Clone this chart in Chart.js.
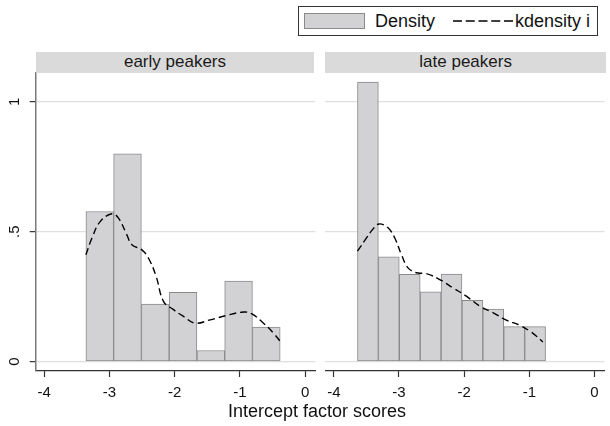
<!DOCTYPE html>
<html><head><meta charset="utf-8">
<script src="https://cdn.jsdelivr.net/npm/chart.js@4"></script>
<style>
html,body{margin:0;padding:0;background:#fff}
body{width:610px;height:426px;overflow:hidden;position:relative;font-family:"Liberation Sans",Arial,Helvetica,sans-serif;color:#111}
canvas{position:absolute;top:0}
#cl{left:0}
#cr{left:320px}
.strip{position:absolute;top:52.3px;height:20.4px;background:#dadada;font-size:17px;line-height:20.4px;text-align:center;color:#1a1a1a}
#legend{position:absolute;left:298px;top:5.7px;width:300px;height:30px;border:1px solid #333;box-sizing:border-box;background:#fff}
#legend .sw{position:absolute;left:5.3px;top:6.6px;width:60.7px;height:16px;box-sizing:border-box;background:#d2d2d5;border:1.5px solid #8a8a8a}
#legend .t{position:absolute;font-size:18px;line-height:20px;top:4.3px;white-space:nowrap;color:#111}
#legend svg{position:absolute;left:153.7px;top:12.3px}
#xtitle{position:absolute;left:228px;top:401px;font-size:18px;line-height:20px;white-space:nowrap;color:#111}
</style></head>
<body>
<canvas id="cl" width="320" height="426"></canvas>
<canvas id="cr" width="290" height="426"></canvas>
<div class="strip" style="left:35.7px;width:278.6px">early peakers</div>
<div class="strip" style="left:325.3px;width:280.7px">late peakers</div>
<div id="legend">
  <div class="sw"></div>
  <span class="t" style="left:76px">Density</span>
  <svg width="61" height="4"><line x1="0" y1="2" x2="61" y2="2" stroke="#000" stroke-width="1.5" stroke-dasharray="9,3.75"/></svg>
  <span class="t" style="left:216px">kdensity i</span>
</div>
<div id="xtitle">Intercept factor scores</div>
<script>
// ---- data ----
const xTicks = [-4, -3, -2, -1, 0];
const xTickLabels = ["-4", "-3", "-2", "-1", "0"];
const yTicks = [0, 0.5, 1];
const yTickLabels = ["0", ".5", "1"];

const earlyBinCenters = [-3.148, -2.723, -2.297, -1.872, -1.446, -1.021, -0.596];
const earlyDensity    = [0.578, 0.800, 0.222, 0.267, 0.043, 0.310, 0.133];
const earlyKdeX = [-3.361, -3.269, -3.142, -2.963, -2.861, -2.733, -2.656, -2.503, -2.401, -2.284, -2.172, -2.018, -1.865, -1.686, -1.456, -1.200, -0.946, -0.817, -0.639, -0.486, -0.383];
const earlyKdeY = [0.411, 0.475, 0.539, 0.569, 0.552, 0.488, 0.450, 0.430, 0.398, 0.328, 0.232, 0.200, 0.174, 0.148, 0.161, 0.178, 0.191, 0.184, 0.148, 0.110, 0.078];

const lateBinCenters = [-3.477, -3.156, -2.835, -2.515, -2.194, -1.873, -1.553, -1.232, -0.911];
const lateDensity    = [1.076, 0.403, 0.336, 0.269, 0.337, 0.236, 0.202, 0.135, 0.135];
const lateKdeX = [-3.637, -3.499, -3.397, -3.306, -3.168, -3.065, -2.963, -2.861, -2.733, -2.580, -2.375, -2.172, -1.966, -1.762, -1.559, -1.353, -1.149, -0.996, -0.894, -0.792];
const lateKdeY = [0.425, 0.476, 0.511, 0.530, 0.515, 0.476, 0.412, 0.361, 0.342, 0.339, 0.316, 0.284, 0.252, 0.214, 0.189, 0.160, 0.140, 0.118, 0.099, 0.076];

const X_MIN = -4.13, X_MAX = 0.155, Y_MIN = -0.036, Y_MAX = 1.112;
const FONT = '"Liberation Sans", Arial, Helvetica, sans-serif';

const yLabelPlugin = {
  id: 'yLabels',
  afterDraw(chart, args, opts) {
    if (!opts.show) return;
    const s = chart.scales.y, ctx = chart.ctx;
    ctx.save();
    ctx.fillStyle = '#111';
    ctx.font = '15px ' + FONT;
    ctx.textAlign = 'center';
    ctx.textBaseline = 'middle';
    yTicks.forEach((v, i) => {
      const py = s.getPixelForValue(v);
      ctx.save();
      ctx.translate(14, py);
      ctx.rotate(-Math.PI / 2);
      ctx.fillText(yTickLabels[i], 0, 1);
      ctx.restore();
    });
    ctx.restore();
  }
};

function panel(id, centers, dens, kx, ky, isLeft, yWidth, padRight) {
  new Chart(document.getElementById(id), {
    data: {
      datasets: [
        {
          type: 'line',
          order: 0,
          data: kx.map((x, i) => ({x: x, y: ky[i]})),
          borderColor: '#000',
          borderWidth: 1.4,
          borderDash: [7, 4],
          pointRadius: 0,
          tension: 0.4,
          fill: false
        },
        {
          type: 'bar',
          order: 1,
          data: centers.map((x, i) => ({x: x, y: dens[i]})),
          backgroundColor: '#d2d2d5',
          borderColor: '#8a8a8a',
          borderWidth: 1,
          borderSkipped: false,
          barPercentage: 1,
          categoryPercentage: 1
        }
      ]
    },
    options: {
      responsive: false,
      animation: false,
      events: [],
      layout: {padding: {left: 0, right: padRight, top: 72.7, bottom: 0}},
      plugins: {legend: {display: false}, tooltip: {enabled: false}, yLabels: {show: isLeft}},
      scales: {
        x: {
          type: 'linear', position: 'bottom', min: X_MIN, max: X_MAX, offset: false,
          afterFit: s => { s.height = 55; },
          afterBuildTicks: s => { s.ticks = xTicks.map(v => ({value: v})); },
          grid: {offset: false, drawOnChartArea: false, drawTicks: true, tickLength: 6, tickColor: '#333', tickWidth: 1.2},
          border: {display: true, color: '#333', width: 1.2},
          ticks: {
            padding: 7, color: '#111', font: {family: FONT, size: 15},
            maxRotation: 0, autoSkip: false,
            callback: (v) => { const i = xTicks.indexOf(v); return i >= 0 ? xTickLabels[i] : ''; }
          }
        },
        y: {
          type: 'linear', position: 'left', min: Y_MIN, max: Y_MAX,
          afterFit: s => { s.width = yWidth; },
          afterBuildTicks: s => { s.ticks = yTicks.map(v => ({value: v})); },
          grid: {color: '#e0e0e0', lineWidth: 1.3, drawTicks: isLeft, tickLength: 6, tickColor: '#333', tickWidth: 1.2},
          border: {display: isLeft, color: '#7a7a7a', width: 1.5},
          ticks: {display: false}
        }
      }
    },
    plugins: [yLabelPlugin]
  });
}

panel('cl', earlyBinCenters, earlyDensity, earlyKdeX, earlyKdeY, true, 35.7, 4.7);
panel('cr', lateBinCenters, lateDensity, lateKdeX, lateKdeY, false, 5.3, 5.4);
</script>
</body></html>
